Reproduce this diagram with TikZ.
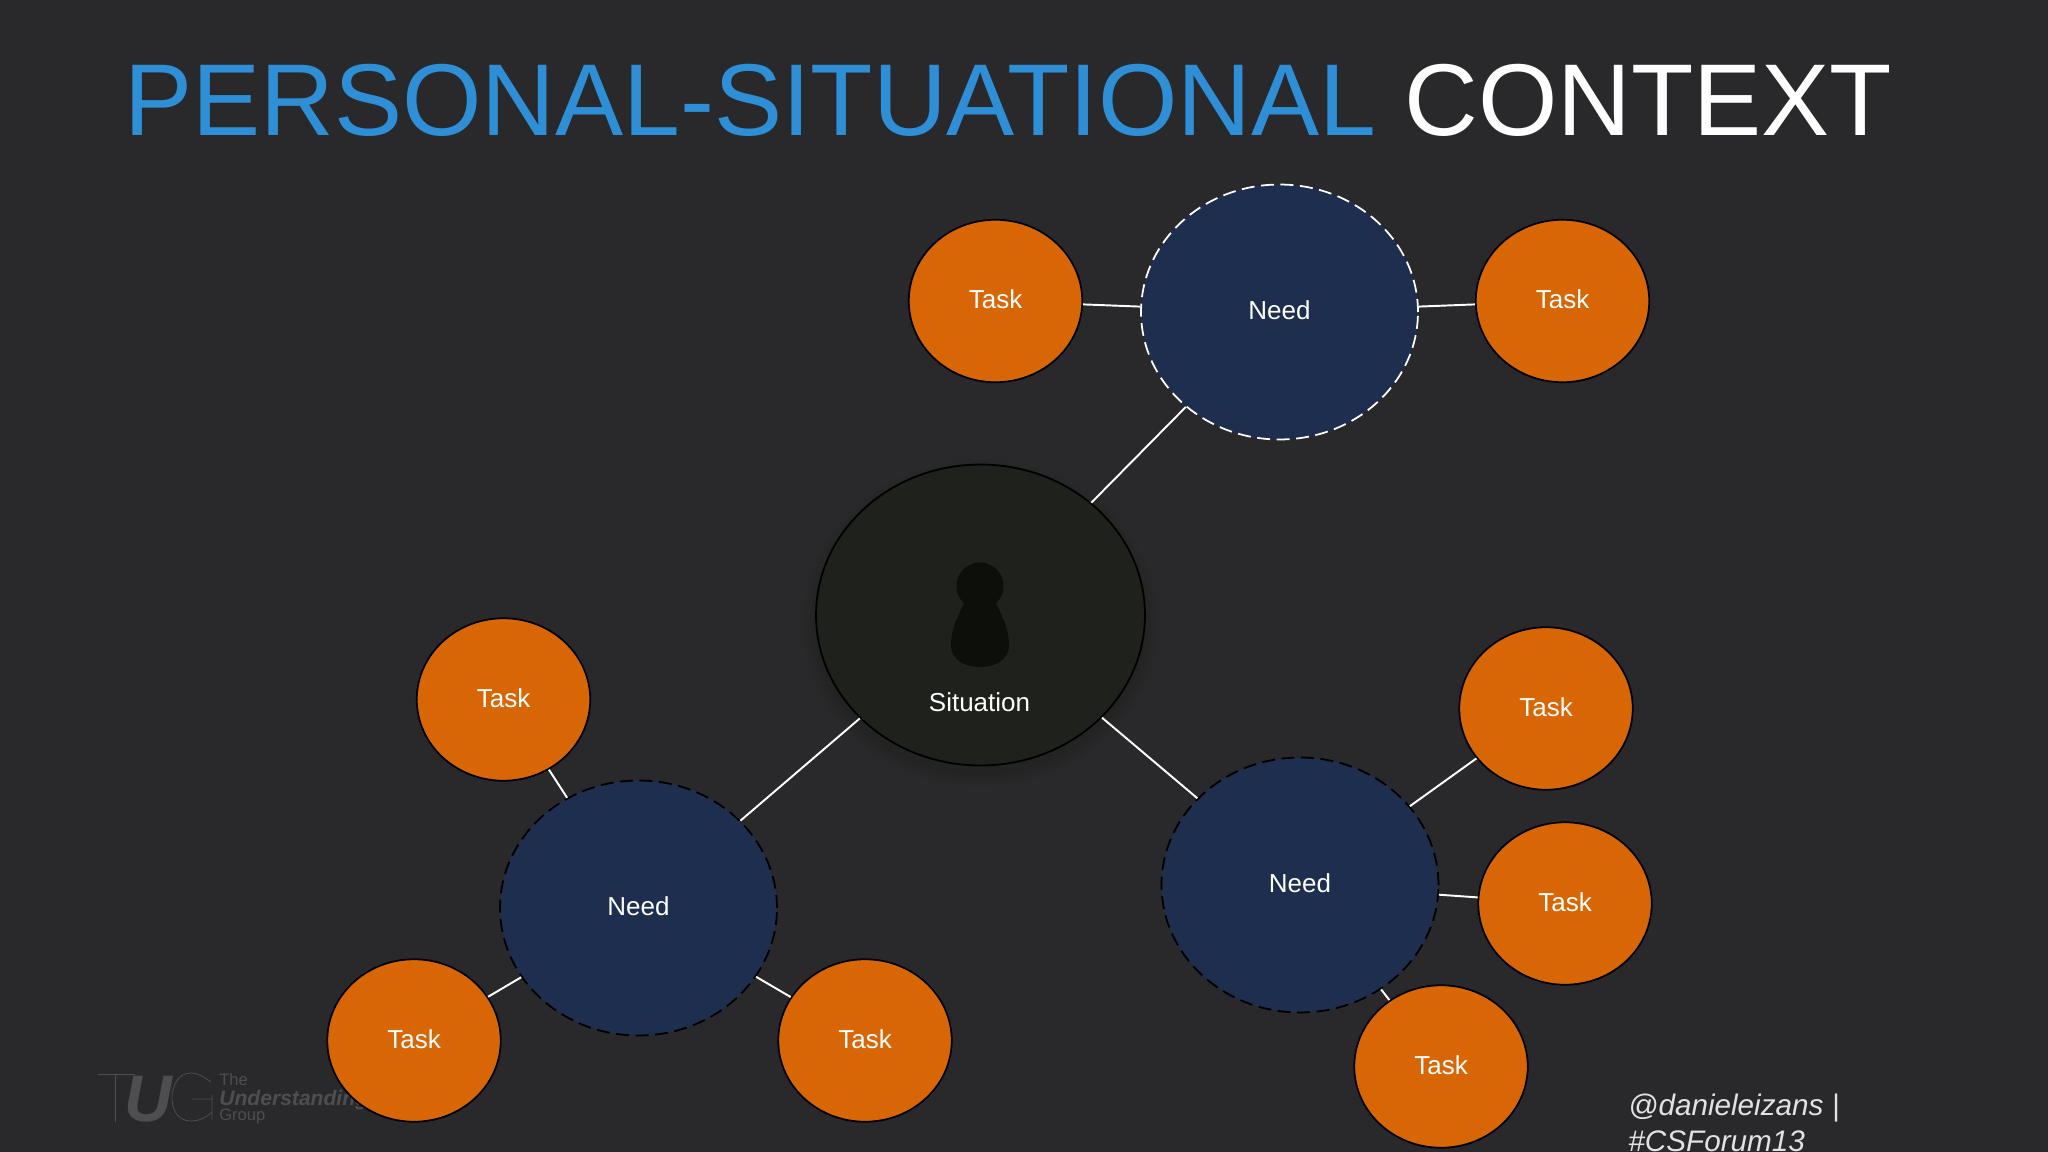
\documentclass[tikz,border=0pt]{standalone}
\usepackage{fontspec}
\usetikzlibrary{shapes.geometric}
\setmainfont{Liberation Sans}
\definecolor{bgdark}{HTML}{29292B}
\definecolor{taskorange}{HTML}{D96605}
\definecolor{neednavy}{HTML}{1D2E4E}
\definecolor{sitfill}{HTML}{1E211C}
\definecolor{personfill}{HTML}{0C0F0A}
\definecolor{titleblue}{HTML}{2F8FD6}
\definecolor{logogrey}{HTML}{4E4E50}
\definecolor{handlegrey}{HTML}{E2E2E2}
\newcommand{\liftlabel}[1]{\raisebox{2pt}{#1}}
\tikzset{
  taskbox/.style={ellipse,draw=black,line width=1pt,fill=taskorange,text=white,inner sep=0pt,
    minimum width=3.47cm,minimum height=3.25cm,font=\fontsize{14.8}{18}\selectfont},
  needbox/.style={ellipse,fill=neednavy,text=white,inner sep=0pt,line width=1pt,
    dash pattern=on 7.4pt off 3.7pt,
    minimum width=5.54cm,minimum height=5.1cm,font=\fontsize{14.8}{18}\selectfont},
  needdark/.style={needbox,draw=black},
  needlight/.style={needbox,draw=white},
  situationbox/.style={ellipse,draw=black,line width=1pt,fill=sitfill,inner sep=0pt,
    minimum width=6.58cm,minimum height=6.02cm},
  link/.style={draw=white,line width=1.1pt},
  logotext/.style={text=logogrey,inner sep=0pt,anchor=base west}
}
\begin{document}
\begin{tikzpicture}[x=0.02cm,y=-0.02cm]
\useasboundingbox (0,0) rectangle (2048,1152);
\clip (0,0) rectangle (2048,1152);
\fill[bgdark] (0,0) rectangle (2048,1152);

% title
\node[anchor=base west,inner sep=0pt,text=titleblue,font=\fontsize{58.1}{70}\selectfont] (title) at (124,136)
  {PERSONAL-SITUATIONAL \textcolor{white}{CONTEXT}};

% logo
\draw[logogrey,line width=0.45pt] (98,1074) -- (135,1074) (115,1074) -- (115,1122);
\node[logotext,draw=none,font=\fontsize{37.5}{40}\bfseries\itshape\selectfont] (logoU) at (124,1121) {U};
\draw[logogrey,line width=0.45pt] (211,1082) .. controls (203,1076) and (197,1073) .. (191,1073)
  .. controls (178,1073) and (172,1086) .. (172,1098)
  .. controls (172,1110) and (178,1121) .. (191,1121)
  .. controls (198,1121) and (206,1118) .. (212,1112) -- (212,1099) -- (192,1099)
  (212,1095) -- (212,1120);
\node[logotext,font=\fontsize{9.4}{10}\selectfont] (logoThe) at (219,1085.5) {The};
\node[logotext,font=\fontsize{12}{13}\bfseries\itshape\selectfont] (logoMid) at (219,1105) {Understanding};
\node[logotext,font=\fontsize{9.4}{10}\selectfont] (logoGroup) at (219,1120) {Group};

% soft shadow of the situation circle
\foreach \w/\h in {7.1/6.54,7.0/6.44,6.9/6.34,6.8/6.24,6.7/6.14,6.6/6.04}{
  \fill[black,opacity=0.025] (980.5,623) ellipse ({\w*0.5cm} and {\h*0.5cm});
}

% nodes
\node[situationbox] (sit) at (980.5,615) {};
\node[needlight] (needT) at (1279.5,312) {\liftlabel{Need}};
\node[needdark] (needL) at (638.5,908) {\liftlabel{Need}};
\node[needdark] (needR) at (1300,885) {\liftlabel{Need}};
\node[taskbox] (t1) at (995.5,301) {\liftlabel{Task}};
\node[taskbox] (t2) at (1562.5,301) {\liftlabel{Task}};
\node[taskbox] (t3) at (503.5,699.5) {\liftlabel{Task}};
\node[taskbox] (t4) at (414,1040.5) {\liftlabel{Task}};
\node[taskbox] (t5) at (865,1040.5) {\liftlabel{Task}};
\node[taskbox] (t6) at (1546,708.5) {\liftlabel{Task}};
\node[taskbox] (t7) at (1565,903.5) {\liftlabel{Task}};
\node[taskbox] (t8) at (1441,1066.5) {\liftlabel{Task}};

% connectors
\draw[link] (sit) -- (needT);
\draw[link] (sit) -- (needL);
\draw[link] (sit) -- (needR);
\draw[link] (t1) -- (needT);
\draw[link] (t2) -- (needT);
\draw[link] (t3) -- (needL);
\draw[link] (t4) -- (needL);
\draw[link] (t5) -- (needL);
\draw[link] (t6) -- (needR);
\draw[link] (t7) -- (needR);
\draw[link] (t8) -- (needR);

% person
\fill[personfill] (980,586) circle (23.5);
\fill[personfill] (964,603) -- (996,603)
  .. controls (1003,618) and (1009,630) .. (1009,645)
  .. controls (1009,660) and (995,667) .. (980,667)
  .. controls (965,667) and (951,660) .. (951,645)
  .. controls (951,630) and (957,618) .. (964,603) -- cycle;
\node[anchor=base,inner sep=0pt,text=white,font=\fontsize{14.8}{18}\selectfont] (sitlabel) at (979.5,711.5) {Situation};

% handle
\node[anchor=base west,inner sep=0pt,text=handlegrey,font=\fontsize{16.9}{20}\itshape\selectfont] (h1) at (1628,1115.5) {@danieleizans |};
\node[anchor=base west,inner sep=0pt,text=handlegrey,font=\fontsize{16.9}{20}\itshape\selectfont] (h2) at (1628,1151.5) {\#CSForum13};
\end{tikzpicture}
\end{document}
